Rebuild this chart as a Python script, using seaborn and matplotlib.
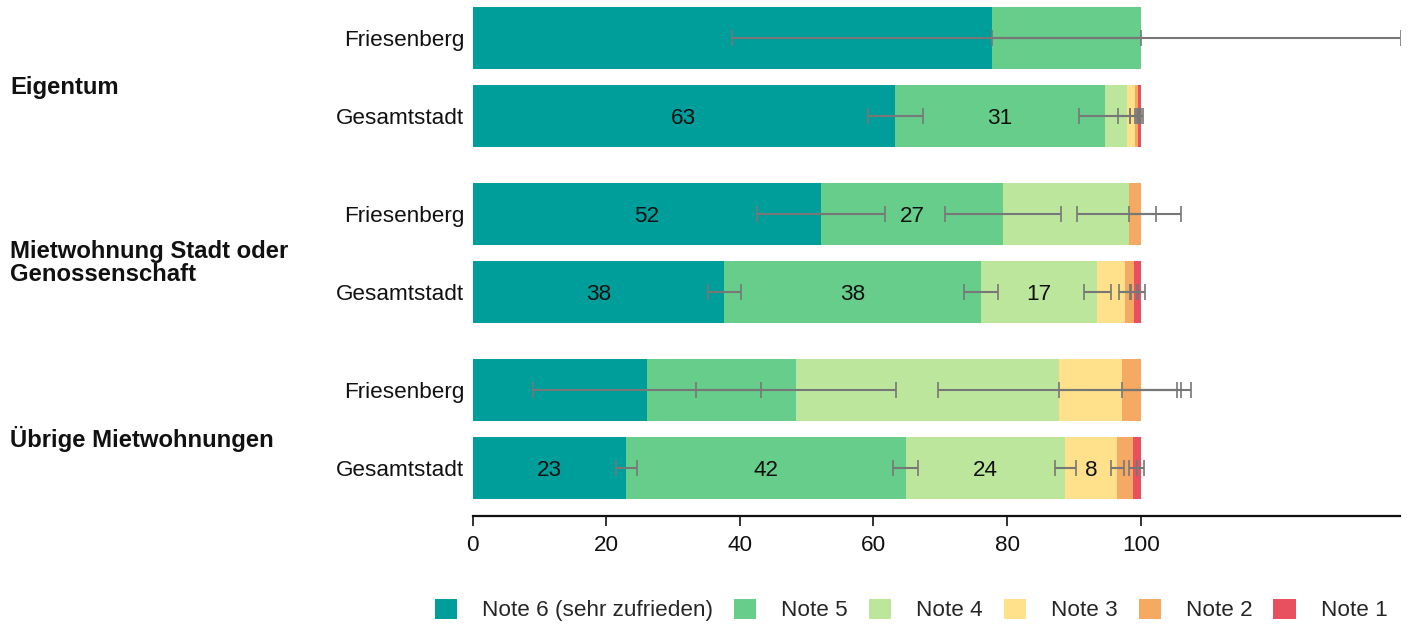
import numpy as np
import pandas as pd
import matplotlib
matplotlib.use("Agg")
import matplotlib.pyplot as plt
import matplotlib.transforms as mtransforms
from matplotlib.patches import Patch
import seaborn as sns

# ---------------- data ----------------
groups = ["Eigentum", "Mietwohnung Stadt oder\nGenossenschaft", "Übrige Mietwohnungen"]
areas = ["Friesenberg", "Gesamtstadt"]
notes = ["Note 6 (sehr zufrieden)", "Note 5", "Note 4", "Note 3", "Note 2", "Note 1"]
colors = ["#009e9a", "#66cd8b", "#bde69d", "#fee18a", "#f5a962", "#e8505f"]

# rows: Eigentum F, Eigentum G, Miet F, Miet G, Übrige F, Übrige G
note6 = [77.8, 63.3, 52.2, 37.7, 26.1, 23.0]
note5 = [22.2, 31.3, 27.2, 38.4, 22.3, 41.8]
note4 = [0.0, 3.4, 18.8, 17.4, 39.4, 23.9]
note3 = [0.0, 1.1, 0.0, 4.1, 9.4, 7.8]
note2 = [0.0, 0.5, 1.8, 1.4, 2.8, 2.4]
note1 = [0.0, 0.4, 0.0, 1.0, 0.0, 1.1]

err6 = [39.0, 4.1, 9.6, 2.5, 17.0, 1.6]
err5 = [39.0, 3.8, 8.7, 2.5, 15.0, 1.9]
err4 = [0.0, 1.4, 7.8, 2.0, 18.2, 1.6]
err3 = [0.0, 0.7, 0.0, 0.9, 10.3, 1.0]
err2 = [0.0, 0.5, 2.3, 0.6, 5.4, 0.6]
err1 = [0.0, 0.4, 0.0, 0.6, 0.0, 0.5]

show6 = [False, True, True, True, False, True]
show5 = [False, True, True, True, False, True]
show4 = [False, False, False, True, False, True]
show3 = [False, False, False, False, False, True]
show2 = [False] * 6
show1 = [False] * 6

xticks = [0, 20, 40, 60, 80, 100]

values = np.array([note6, note5, note4, note3, note2, note1])
errors = np.array([err6, err5, err4, err3, err2, err1])
shows = np.array([show6, show5, show4, show3, show2, show1])

# ---------------- layout ----------------
W, H, DPI = 1412, 624, 100
FS = 16.2
FSB = 17.2
sns.set_theme(style="white")
plt.rcParams["font.family"] = ["Liberation Sans", "DejaVu Sans"]

fig = plt.figure(figsize=(W / DPI, H / DPI), dpi=DPI)
ax = fig.add_axes([472.5 / W, 1 - 516 / H, (1400 - 472.5) / W, 516 / H])

gap = 0.256
n_rows = values.shape[1]
ypos = np.array([i + (i // 2) * gap for i in range(n_rows)])
cum_end = np.cumsum(values, axis=0)
cum_start = cum_end - values

# stacked bars: draw cumulative totals from the last note back to the first
for k in range(len(notes) - 1, -1, -1):
    df = pd.DataFrame({"x": cum_end[k], "y": ypos})
    sns.barplot(data=df, x="x", y="y", orient="y", native_scale=True,
                color=colors[k], saturation=1, width=0.795, errorbar=None,
                linewidth=0, ax=ax)

# error bars (clipped to [0, 100] within the segment)
for k in range(len(notes)):
    for r in range(n_rows):
        v = values[k, r]
        if v <= 0:
            continue
        e = errors[k, r]
        lo = cum_start[k, r] + max(v - e, 0)
        hi = cum_start[k, r] + min(v + e, 100)
        c = cum_end[k, r]
        ax.errorbar([c], [ypos[r]], xerr=[[c - lo], [hi - c]], fmt="none",
                    ecolor="#777777", elinewidth=1.5, capsize=5.8, capthick=1.2,
                    zorder=5)

# value labels
for k in range(len(notes)):
    for r in range(n_rows):
        if shows[k, r]:
            ax.text(cum_start[k, r] + values[k, r] / 2, ypos[r],
                    f"{values[k, r]:.0f}", ha="center", va="center_baseline",
                    fontsize=FS, color="#111111", zorder=6)

ax.set_xlim(0, 138.8)
ax.set_ylim(ypos[-1] + (516 - 468) / 78, -38 / 78)
ax.set_yticks(ypos)
ax.set_yticklabels([areas[i % 2] for i in range(n_rows)], fontsize=FS, color="#111111")
ax.set_xticks(xticks)
ax.set_xticklabels([str(t) for t in xticks], fontsize=FS, color="#111111")
ax.set_xlabel("")
ax.set_ylabel("")
for s in ["top", "right", "left"]:
    ax.spines[s].set_visible(False)
ax.spines["bottom"].set_color("#111111")
ax.spines["bottom"].set_linewidth(1.6)
ax.tick_params(axis="y", length=0, pad=6)
ax.tick_params(axis="x", length=7, width=1.2, color="#111111", pad=7, bottom=True)
ax.grid(False)

# group labels
trans = mtransforms.blended_transform_factory(fig.transFigure, ax.transData)
for g, name in enumerate(groups):
    yc = (ypos[2 * g] + ypos[2 * g + 1]) / 2 + 10 / 78
    ax.text(10 / W, yc, name, transform=trans, ha="left", va="center",
            fontsize=FSB, fontweight="bold", color="#111111", linespacing=1.0)

# legend
handles = [Patch(facecolor=c, edgecolor="none") for c in colors]
fig.legend(handles, notes, loc="center", ncol=6, frameon=False, fontsize=FS,
           bbox_to_anchor=(911 / W, 1 - 610 / H), handlelength=1.0, handleheight=1.0,
           handletextpad=1.1, columnspacing=0.93, borderaxespad=0)

fig.savefig("out.png", dpi=DPI)
